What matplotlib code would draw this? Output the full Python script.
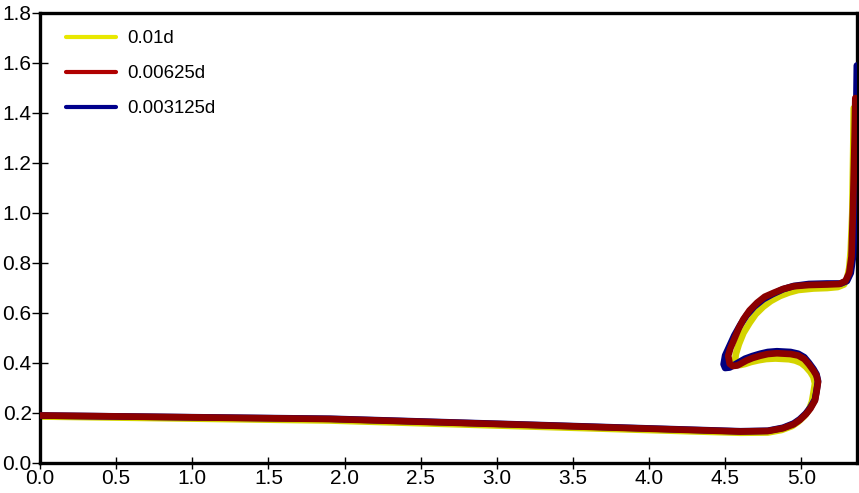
# -*- coding: utf-8 -*-
# Interfaz de la ola rompiente para tres resoluciones de malla
import matplotlib
matplotlib.use('Agg')
import matplotlib.pyplot as plt

# ---------------------------------------------------------------------------
# Datos (x, y de la interfaz)
# ---------------------------------------------------------------------------
ETIQUETAS = ["0.01d", "0.00625d", "0.003125d"]

x_001 = [0.0, 1.905, 3.22, 4.60, 4.78, 4.87, 4.94, 4.98, 5.02, 5.05, 5.07, 5.08,
         5.09, 5.08, 5.06, 5.03, 5.00, 4.96, 4.92, 4.83, 4.77, 4.72, 4.67, 4.63,
         4.60, 4.575, 4.565, 4.57, 4.59, 4.62, 4.66, 4.70, 4.75, 4.80, 4.86, 4.92,
         4.98, 5.08, 5.17, 5.24, 5.28, 5.30, 5.315, 5.325, 5.335, 5.34, 5.345]
y_001 = [0.186, 0.170, 0.146, 0.121, 0.122, 0.132, 0.148, 0.165, 0.188, 0.212, 0.245, 0.280,
         0.318, 0.344, 0.364, 0.385, 0.400, 0.410, 0.415, 0.418, 0.416, 0.411, 0.404, 0.396,
         0.392, 0.395, 0.410, 0.435, 0.475, 0.520, 0.560, 0.595, 0.625, 0.648, 0.668, 0.682,
         0.692, 0.698, 0.700, 0.704, 0.714, 0.735, 0.780, 0.850, 1.000, 1.200, 1.420]

x_000625 = [0.0, 1.905, 3.22, 4.60, 4.78, 4.88, 4.95, 4.99, 5.03, 5.06, 5.09, 5.10,
            5.11, 5.10, 5.08, 5.05, 5.02, 4.98, 4.93, 4.84, 4.78, 4.73, 4.68, 4.64,
            4.58, 4.55, 4.53, 4.52, 4.535, 4.56, 4.59, 4.62, 4.66, 4.71, 4.76, 4.82,
            4.88, 4.95, 5.05, 5.17, 5.25, 5.29, 5.315, 5.33, 5.34, 5.35, 5.355]
y_000625 = [0.190, 0.176, 0.152, 0.126, 0.128, 0.139, 0.155, 0.172, 0.195, 0.218, 0.250, 0.284,
            0.324, 0.350, 0.370, 0.395, 0.416, 0.430, 0.436, 0.439, 0.436, 0.429, 0.420, 0.410,
            0.390, 0.388, 0.397, 0.429, 0.460, 0.496, 0.540, 0.575, 0.610, 0.641, 0.665, 0.681,
            0.696, 0.707, 0.712, 0.714, 0.716, 0.728, 0.760, 0.826, 1.024, 1.289, 1.460]

x_0003125 = [0.0, 1.905, 3.22, 4.60, 4.78, 4.88, 4.95, 4.99, 5.03, 5.06, 5.09, 5.10,
             5.11, 5.10, 5.08, 5.05, 5.02, 4.98, 4.93, 4.84, 4.78, 4.73, 4.68, 4.63,
             4.57, 4.53, 4.50, 4.49, 4.50, 4.53, 4.56, 4.60, 4.64, 4.69, 4.75, 4.81,
             4.88, 4.95, 5.05, 5.17, 5.26, 5.30, 5.325, 5.34, 5.352, 5.358, 5.362, 5.365]
y_0003125 = [0.190, 0.177, 0.153, 0.127, 0.129, 0.141, 0.158, 0.175, 0.198, 0.222, 0.254, 0.288,
             0.328, 0.355, 0.376, 0.401, 0.423, 0.437, 0.444, 0.447, 0.444, 0.437, 0.428, 0.417,
             0.396, 0.382, 0.380, 0.395, 0.430, 0.470, 0.510, 0.553, 0.590, 0.625, 0.655, 0.675,
             0.695, 0.708, 0.716, 0.718, 0.718, 0.728, 0.760, 0.826, 1.020, 1.290, 1.450, 1.590]

XTICKS = [0.0, 0.5, 1.0, 1.5, 2.0, 2.5, 3.0, 3.5, 4.0, 4.5, 5.0]
YTICKS = [0.0, 0.2, 0.4, 0.6, 0.8, 1.0, 1.2, 1.4, 1.6, 1.8]

# ---------------------------------------------------------------------------
# Estilo
# ---------------------------------------------------------------------------
plt.rcParams['font.family'] = ['Liberation Sans', 'DejaVu Sans']

colores = ['#d4d400', '#8b0000', '#000080']
colores_leyenda = ['#e8e800', '#b00000', '#00008c']

fig = plt.figure(figsize=(8.59, 4.93), dpi=100)
# ejes un poco recortados para que las etiquetas no se salgan de la figura
ax = fig.add_axes([40 / 859, 30 / 493, 817 / 859, 450 / 493])

# orden de dibujo: amarillo, azul, rojo (rojo encima)
ax.plot(x_001, y_001, color=colores[0], lw=4.8, solid_joinstyle='round',
        solid_capstyle='round', label=ETIQUETAS[0], zorder=2)
ax.plot(x_000625, y_000625, color=colores[1], lw=4.8, solid_joinstyle='round',
        solid_capstyle='round', label=ETIQUETAS[1], zorder=4)
ax.plot(x_0003125, y_0003125, color=colores[2], lw=4.8, solid_joinstyle='round',
        solid_capstyle='round', label=ETIQUETAS[2], zorder=3)

ax.set_xlim(0, 5.366)
ax.set_ylim(0, 1.8)
ax.set_xticks(XTICKS)
ax.set_yticks(YTICKS)
ax.set_xticklabels([f"{v:.1f}" for v in XTICKS])
ax.set_yticklabels([f"{v:.1f}" for v in YTICKS])

for lado in ['left', 'right', 'top', 'bottom']:
    ax.spines[lado].set_linewidth(2.4)
    ax.spines[lado].set_color('black')

ax.tick_params(axis='x', direction='inout', length=8, width=1,
               labelsize=15, pad=0, colors='black')
ax.tick_params(axis='y', direction='inout', length=12, width=1,
               labelsize=15, pad=0, colors='black')

# Leyenda sin marco
leg = ax.legend(loc='upper left', bbox_to_anchor=(26 / 817, 1 - 17 / 450),
                frameon=False, fontsize=13.4, handlelength=2.7,
                handletextpad=0.6, labelspacing=0.97, borderpad=0,
                borderaxespad=0)
for linea, c in zip(leg.get_lines(), colores_leyenda):
    linea.set_linewidth(3)
    linea.set_color(c)

fig.savefig('out.png', dpi=100)
